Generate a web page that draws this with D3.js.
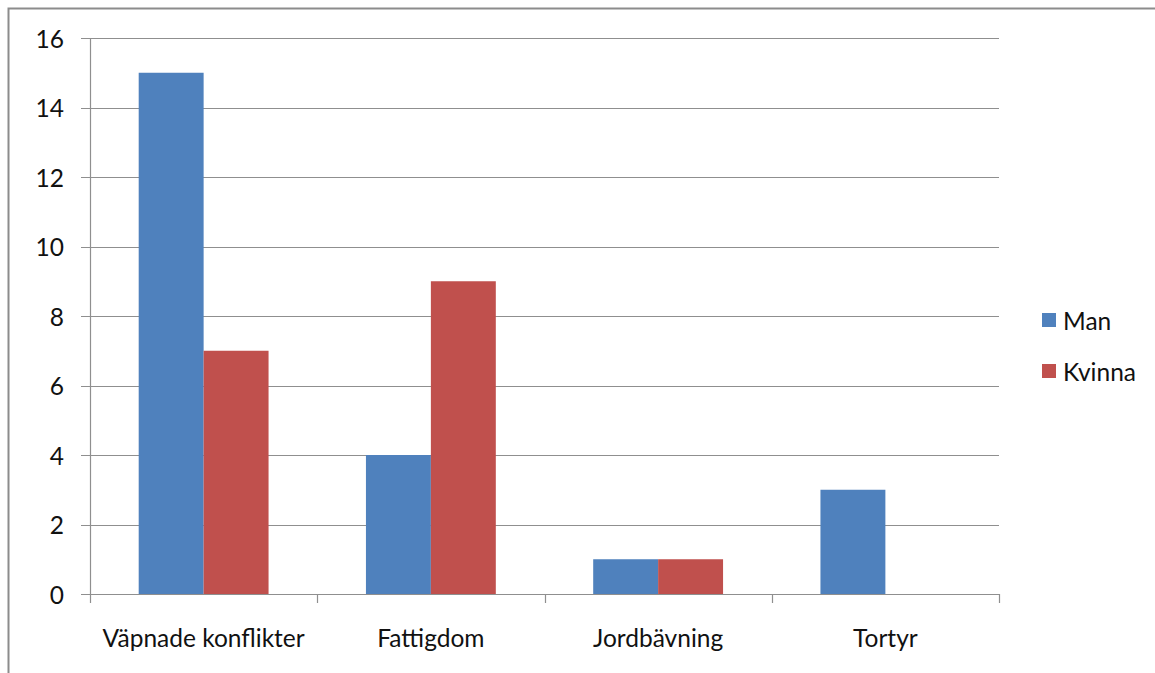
<!DOCTYPE html>
<html>
<head>
<meta charset="utf-8">
<script src="https://cdn.jsdelivr.net/npm/d3@7"></script>
<style>
  html, body { margin: 0; padding: 0; background: #fff; }
  svg { display: block; }
  text { font-family: Lato, "Open Sans", "Liberation Sans", sans-serif; fill: #111; }
</style>
</head>
<body>
<svg id="chart" width="1155" height="673"></svg>
<script>
// Reasons for fleeing, counted by gender
const categories = ["Väpnade konflikter", "Fattigdom", "Jordbävning", "Tortyr"];
const seriesNames = ["Man", "Kvinna"];
const manValues = [15, 4, 1, 3];
const kvinnaValues = [7, 9, 1, 0];
const yTicks = [0, 2, 4, 6, 8, 10, 12, 14, 16];
const colors = ["#4F81BD", "#C0504D"];

const svg = d3.select("#chart");
const W = 1155, H = 673;
const fontSize = 24.5;

// outer chart frame
svg.append("rect")
  .attr("x", 8.5).attr("y", 8.5)
  .attr("width", W + 10).attr("height", H + 10)
  .attr("fill", "none").attr("stroke", "#8c8c8c").attr("stroke-width", 2);

const plot = { left: 90, right: 999, top: 38, bottom: 594 };

const x = d3.scaleBand()
  .domain(categories)
  .range([plot.left, plot.right])
  .paddingInner(0).paddingOuter(0);

const bw = x.bandwidth();
const barW = bw / 3.5; // gap width 150%
const sub = d3.scaleBand().domain(seriesNames)
  .range([0.75 * barW, 0.75 * barW + 2 * barW]);

const y = d3.scaleLinear().domain([0, 16]).range([plot.bottom, plot.top]);

// gridlines
svg.append("g")
  .selectAll("line")
  .data(yTicks)
  .join("line")
  .attr("x1", plot.left - 9).attr("x2", plot.right)
  .attr("y1", d => Math.round(y(d)) + 0.5).attr("y2", d => Math.round(y(d)) + 0.5)
  .attr("stroke", "#8f8f8f").attr("stroke-width", 1.2);

// y axis line
svg.append("line")
  .attr("x1", plot.left + 0.5).attr("x2", plot.left + 0.5)
  .attr("y1", plot.top).attr("y2", plot.bottom)
  .attr("stroke", "#8f8f8f").attr("stroke-width", 1.2);

// y tick labels
svg.append("g")
  .selectAll("text")
  .data(yTicks)
  .join("text")
  .attr("x", 64).attr("y", d => y(d))
  .attr("text-anchor", "end").attr("dominant-baseline", "central")
  .attr("font-size", fontSize)
  .text(d => d);

// bars
const rows = categories.map((c, i) => ({ cat: c, vals: [manValues[i], kvinnaValues[i]] }));
const groups = svg.append("g").selectAll("g")
  .data(rows)
  .join("g")
  .attr("transform", d => `translate(${x(d.cat)},0)`);

groups.selectAll("rect")
  .data(d => d.vals.map((v, k) => ({ name: seriesNames[k], v, k })))
  .join("rect")
  .attr("x", d => sub(d.name))
  .attr("width", sub.bandwidth())
  .attr("y", d => y(d.v))
  .attr("height", d => y(0) - y(d.v))
  .attr("fill", d => colors[d.k]);

// x axis line and category ticks
svg.append("line")
  .attr("x1", plot.left).attr("x2", plot.right)
  .attr("y1", plot.bottom + 0.5).attr("y2", plot.bottom + 0.5)
  .attr("stroke", "#8f8f8f").attr("stroke-width", 1.2);

const edges = categories.map(c => x(c)).concat([plot.right]);
svg.append("g")
  .selectAll("line")
  .data(edges)
  .join("line")
  .attr("x1", d => Math.round(d) + 0.5).attr("x2", d => Math.round(d) + 0.5)
  .attr("y1", plot.bottom).attr("y2", plot.bottom + 9)
  .attr("stroke", "#8f8f8f").attr("stroke-width", 1.2);

// category labels
svg.append("g")
  .selectAll("text")
  .data(categories)
  .join("text")
  .attr("x", d => x(d) + bw / 2)
  .attr("y", 637)
  .attr("text-anchor", "middle").attr("dominant-baseline", "central")
  .attr("font-size", fontSize)
  .text(d => d);

// legend
const legend = svg.append("g").selectAll("g")
  .data(seriesNames)
  .join("g")
  .attr("transform", (d, i) => `translate(1042,${313 + i * 51})`);

legend.append("rect")
  .attr("width", 14).attr("height", 14)
  .attr("fill", (d, i) => colors[i]);

legend.append("text")
  .attr("x", 21).attr("y", 7)
  .attr("dominant-baseline", "central")
  .attr("font-size", fontSize)
  .text(d => d);
</script>
</body>
</html>
